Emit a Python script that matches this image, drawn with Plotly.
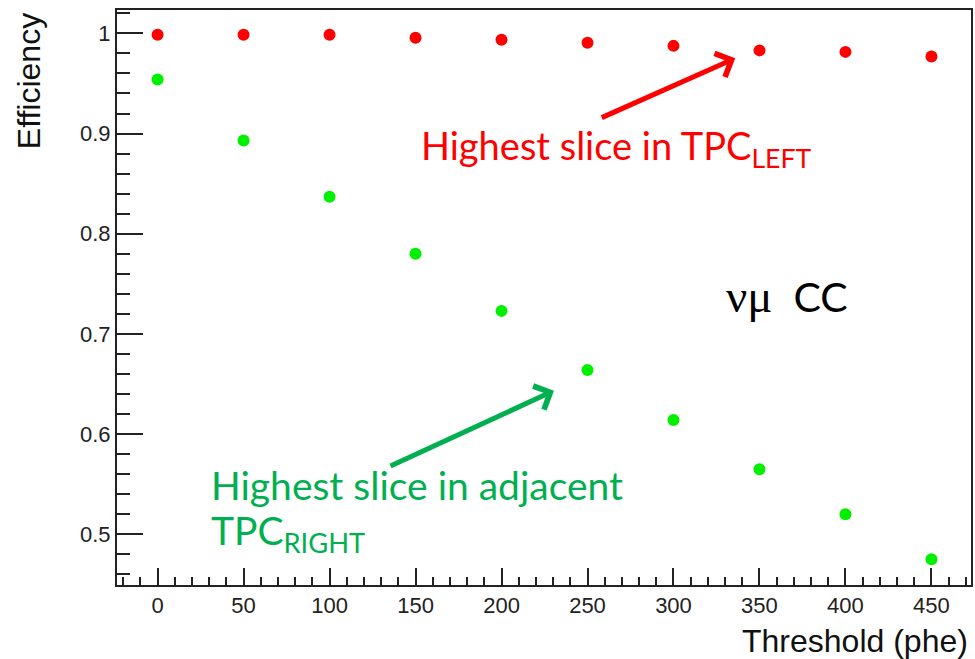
import plotly.graph_objects as go

thresholds = [0, 50, 100, 150, 200, 250, 300, 350, 400, 450]
eff_left = [0.9985, 0.9985, 0.9985, 0.9955, 0.9935, 0.9905, 0.9875, 0.983, 0.9815, 0.977]
eff_right = [0.954, 0.893, 0.837, 0.780, 0.723, 0.664, 0.614, 0.565, 0.520, 0.475]

W, H = 975, 659
L, R, T, B = 117, 2, 10, 74
PW, PH = W - L - R, H - T - B


def px(x):
    return (x - L) / PW


def py(y):
    return (H - B - y) / PH


fig = go.Figure()
fig.add_trace(go.Scatter(x=thresholds, y=eff_left, mode="markers",
                         marker=dict(color="#FF0000", size=12), showlegend=False))
fig.add_trace(go.Scatter(x=thresholds, y=eff_right, mode="markers",
                         marker=dict(color="#00F000", size=12), showlegend=False))

axis_common = dict(showline=True, mirror=True, linecolor="#222", linewidth=2,
                   ticks="inside", tickcolor="#222", tickwidth=2,
                   showgrid=False, zeroline=False,
                   tickfont=dict(family="Liberation Sans, Arial", size=22, color="#222"))

fig.update_xaxes(range=[-23.6, 473.0], tick0=0, dtick=50, ticklen=17,
                 minor=dict(dtick=10, tick0=0, ticklen=8, ticks="inside", tickcolor="#222", tickwidth=2),
                 **axis_common)
fig.update_yaxes(range=[0.4494, 1.0233], tick0=0, dtick=0.1, ticklen=26,
                 minor=dict(dtick=0.02, tick0=0, ticklen=13, ticks="inside", tickcolor="#222", tickwidth=2),
                 **axis_common)

red = "#FF0000"
green = "#00B050"
calib = "Lato, Carlito, Calibri, sans-serif"

annotations = [
    # axis titles
    dict(text="Threshold (phe)", xref="paper", yref="paper", x=px(972), y=py(640.6),
         xanchor="right", yanchor="middle", showarrow=False,
         font=dict(family="Liberation Sans, Arial", size=32, color="#111")),
    dict(text="Efficiency", xref="paper", yref="paper", x=px(29), y=py(81),
         xanchor="center", yanchor="middle", textangle=-90, showarrow=False,
         font=dict(family="Liberation Sans, Arial", size=32, color="#111")),
    # labels
    dict(text="Highest slice in TPC<sub>LEFT</sub>", xref="paper", yref="paper",
         x=px(420), y=py(148), xanchor="left", yanchor="middle", showarrow=False,
         font=dict(family=calib, size=38, color=red)),
    dict(text="Highest slice in adjacent", xref="paper", yref="paper",
         x=px(209), y=py(485), xanchor="left", yanchor="middle", showarrow=False,
         font=dict(family=calib, size=39, color=green)),
    dict(text="TPC<sub>RIGHT</sub>", xref="paper", yref="paper",
         x=px(209), y=py(533), xanchor="left", yanchor="middle", showarrow=False,
         font=dict(family=calib, size=39, color=green)),
    dict(text='<span style="font-family:Liberation Serif, Times New Roman, serif;font-size:47px">νμ</span>  CC',
         xref="paper", yref="paper", x=px(725), y=py(296), xanchor="left", yanchor="middle",
         showarrow=False, font=dict(family=calib, size=41, color="black")),
    # arrows
    dict(text="", xref="paper", yref="paper", axref="pixel", ayref="pixel",
         x=px(736.7), y=py(58.3), ax=601.7 - 736.7, ay=118.3 - 58.3,
         showarrow=True, arrowhead=4, arrowsize=1.0, arrowwidth=5, arrowcolor=red, standoff=0),
    dict(text="", xref="paper", yref="paper", axref="pixel", ayref="pixel",
         x=px(555), y=py(390.7), ax=390 - 555, ay=466.7 - 390.7,
         showarrow=True, arrowhead=4, arrowsize=1.0, arrowwidth=5, arrowcolor=green, standoff=0),
]

fig.update_layout(width=W, height=H, margin=dict(l=L, r=R, t=T, b=B),
                  paper_bgcolor="white", plot_bgcolor="white",
                  annotations=annotations, showlegend=False)

fig.write_html("out.html")
